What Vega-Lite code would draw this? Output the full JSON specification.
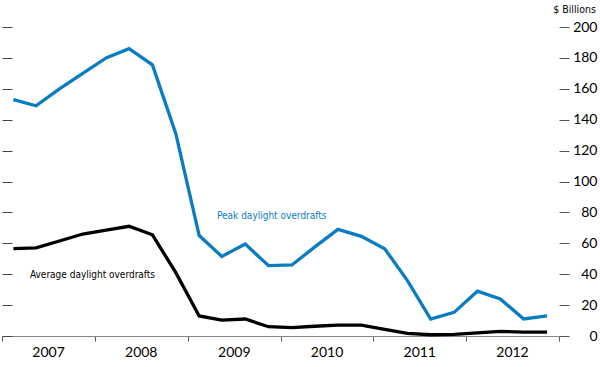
{
  "$schema": "https://vega.github.io/schema/vega-lite/v6.json",
  "autosize": "none",
  "width": 557,
  "height": 309,
  "padding": {"left": 2, "right": 41, "top": 27, "bottom": 31},
  "background": "white",
  "config": {"view": {"stroke": null}},
  "datasets": {
    "series": [
      {"date": "2007-02-15", "series": "Peak", "value": 153},
      {"date": "2007-05-15", "series": "Peak", "value": 149},
      {"date": "2007-08-15", "series": "Peak", "value": 160},
      {"date": "2007-11-15", "series": "Peak", "value": 170},
      {"date": "2008-02-15", "series": "Peak", "value": 180},
      {"date": "2008-05-15", "series": "Peak", "value": 186},
      {"date": "2008-08-15", "series": "Peak", "value": 175.5},
      {"date": "2008-11-15", "series": "Peak", "value": 131},
      {"date": "2009-02-15", "series": "Peak", "value": 65},
      {"date": "2009-05-15", "series": "Peak", "value": 51.5},
      {"date": "2009-08-15", "series": "Peak", "value": 59.5},
      {"date": "2009-11-15", "series": "Peak", "value": 45.5},
      {"date": "2010-02-15", "series": "Peak", "value": 46},
      {"date": "2010-05-15", "series": "Peak", "value": 57.5},
      {"date": "2010-08-15", "series": "Peak", "value": 69},
      {"date": "2010-11-15", "series": "Peak", "value": 64.5},
      {"date": "2011-02-15", "series": "Peak", "value": 56.5},
      {"date": "2011-05-15", "series": "Peak", "value": 36},
      {"date": "2011-08-15", "series": "Peak", "value": 11},
      {"date": "2011-11-15", "series": "Peak", "value": 15.3},
      {"date": "2012-02-15", "series": "Peak", "value": 29},
      {"date": "2012-05-15", "series": "Peak", "value": 24},
      {"date": "2012-08-15", "series": "Peak", "value": 11},
      {"date": "2012-11-15", "series": "Peak", "value": 13},
      {"date": "2007-02-15", "series": "Average", "value": 56.5},
      {"date": "2007-05-15", "series": "Average", "value": 57},
      {"date": "2007-08-15", "series": "Average", "value": 61.5},
      {"date": "2007-11-15", "series": "Average", "value": 66},
      {"date": "2008-02-15", "series": "Average", "value": 68.5},
      {"date": "2008-05-15", "series": "Average", "value": 71},
      {"date": "2008-08-15", "series": "Average", "value": 65.5},
      {"date": "2008-11-15", "series": "Average", "value": 41},
      {"date": "2009-02-15", "series": "Average", "value": 13},
      {"date": "2009-05-15", "series": "Average", "value": 10.3},
      {"date": "2009-08-15", "series": "Average", "value": 11},
      {"date": "2009-11-15", "series": "Average", "value": 6},
      {"date": "2010-02-15", "series": "Average", "value": 5.4},
      {"date": "2010-05-15", "series": "Average", "value": 6.3},
      {"date": "2010-08-15", "series": "Average", "value": 7},
      {"date": "2010-11-15", "series": "Average", "value": 7},
      {"date": "2011-02-15", "series": "Average", "value": 4.3},
      {"date": "2011-05-15", "series": "Average", "value": 1.7},
      {"date": "2011-08-15", "series": "Average", "value": 0.8},
      {"date": "2011-11-15", "series": "Average", "value": 1},
      {"date": "2012-02-15", "series": "Average", "value": 2},
      {"date": "2012-05-15", "series": "Average", "value": 3},
      {"date": "2012-08-15", "series": "Average", "value": 2.5},
      {"date": "2012-11-15", "series": "Average", "value": 2.5}
    ],
    "labels": [
      {"date": "2009-04-26", "value": 77.7, "label": "Peak daylight overdrafts", "series": "Peak"},
      {"date": "2007-04-21", "value": 39.5, "label": "Average daylight overdrafts", "series": "Average"}
    ]
  },
  "layer": [
    {
      "data": {"name": "series"},
      "mark": {"type": "line", "strokeWidth": 3.3, "strokeJoin": "miter"},
      "encoding": {
        "x": {
          "field": "date", "type": "temporal",
          "scale": {"domain": ["2007-01-01T00:00:00", "2013-01-01T00:00:00"]},
          "axis": {
            "orient": "bottom", "title": null, "grid": false,
            "format": "%Y",
            "tickCount": {"interval": "year", "step": 1},
            "labelExpr": "year(datum.value) >= 2013 ? '' : datum.label",
            "labelOffset": 46,
            "labelFlush": false,
            "labelOverlap": false,
            "tickSize": 5,
            "tickColor": "#555555",
            "domainColor": "#888888",
            "labelFont": "Lato",
            "labelFontSize": 14,
            "labelColor": "#000000",
            "labelPadding": 4
          }
        },
        "y": {
          "field": "value", "type": "quantitative",
          "scale": {"domain": [0, 200], "nice": false, "zero": true},
          "axis": {
            "orient": "right",
            "values": [0, 20, 40, 60, 80, 100, 120, 140, 160, 180, 200],
            "grid": false, "domain": false,
            "tickSize": 10, "tickColor": "#555555",
            "labelAlign": "right", "labelPadding": 28,
            "labelFont": "Lato", "labelFontSize": 14, "labelColor": "#000000",
            "title": "$ Billions", "titleAngle": 0,
            "titleX": 15, "titleY": -15,
            "titleAlign": "center", "titleBaseline": "alphabetic",
            "titleFont": "DejaVu Sans Condensed, sans-serif",
            "titleFontSize": 10.5, "titleFontWeight": "normal", "titleColor": "#000000"
          }
        },
        "color": {
          "field": "series", "type": "nominal",
          "scale": {"domain": ["Peak", "Average"], "range": ["#0a7cc2", "#000000"]},
          "legend": null
        }
      }
    },
    {
      "data": {"name": "labels"},
      "mark": {"type": "text", "align": "left", "baseline": "middle",
               "font": "DejaVu Sans Condensed, sans-serif", "fontSize": 10},
      "encoding": {
        "x": {"field": "date", "type": "temporal"},
        "y": {
          "field": "value", "type": "quantitative",
          "axis": {
            "orient": "left",
            "values": [0, 20, 40, 60, 80, 100, 120, 140, 160, 180, 200],
            "labels": false, "grid": false, "domain": false, "title": null,
            "tickSize": 10, "tickColor": "#444444", "offset": -10
          }
        },
        "text": {"field": "label"},
        "color": {"field": "series", "type": "nominal", "legend": null}
      }
    }
  ],
  "resolve": {"axis": {"y": "independent"}}
}
